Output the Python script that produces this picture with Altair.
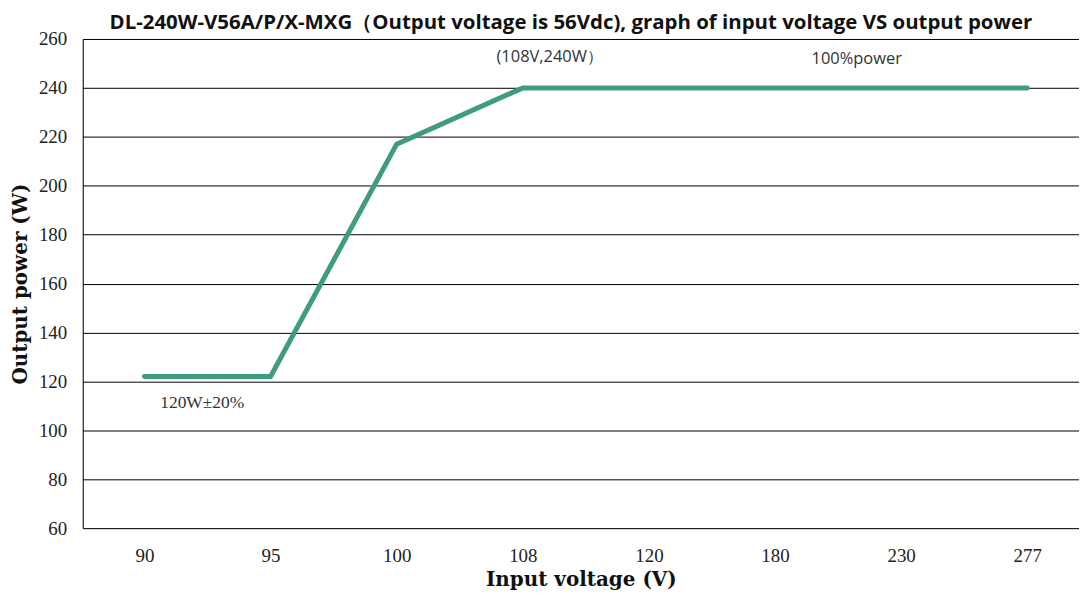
import altair as alt
import pandas as pd

voltages = ["90", "95", "100", "108", "120", "180", "230", "277"]
power = [122, 122, 217, 240, 240, 240, 240, 240]

ann_text = ["(108V,240W\uff09", "100%power", "120W\u00b120%"]
ann_x = ["108", "180", "90"]
ann_y = [252.5, 252, 111]
ann_dx = [27, 82, 58]
ann_font = ["Open Sans", "Open Sans", "Liberation Serif"]
ann_size = [16.5, 16.5, 17.5]

df = pd.DataFrame({"v": voltages, "p": power})
ann = pd.DataFrame({"t": ann_text, "v": ann_x, "p": ann_y})

xs = alt.X("v:O", sort=voltages, title="Input voltage (V)",
           scale=alt.Scale(type="point", padding=0.45, align=0.544),
           axis=alt.Axis(labelAngle=0, ticks=False, domain=False, grid=False,
                         labelFont="Liberation Serif", labelFontSize=19, labelColor="#222",
                         labelPadding=18, titleFont="DejaVu Serif", titleFontSize=20,
                         titleFontWeight="bold", titleColor="#111", titlePadding=5))
ys = alt.Y("p:Q", title="Output power (W)",
           scale=alt.Scale(domain=[60, 260], nice=False, zero=False),
           axis=alt.Axis(values=list(range(60, 261, 20)), ticks=False, grid=True,
                         gridColor="#000", gridOpacity=1, gridWidth=1,
                         domain=True, domainColor="#000", domainWidth=1,
                         labelFont="Liberation Serif", labelFontSize=19, labelColor="#222",
                         labelPadding=16, titleFont="DejaVu Serif", titleFontSize=20,
                         titleFontWeight="bold", titleColor="#111", titlePadding=8))

line = alt.Chart(df).mark_line(color="#3f9c7f", strokeWidth=5, strokeCap="round").encode(x=xs, y=ys)

texts = []
for i in range(len(ann_text)):
    sub = ann.iloc[[i]]
    texts.append(
        alt.Chart(sub).mark_text(dx=int(ann_dx[i]), font=ann_font[i], fontSize=ann_size[i],
                                 color="#333", align="center", baseline="middle")
        .encode(x=alt.X("v:O", sort=voltages), y=alt.Y("p:Q"), text="t:N")
    )

chart = alt.layer(line, *texts).properties(
    width=1000, height=491,
    autosize=alt.AutoSizeParams(type="none"),
    padding={"left": 75, "top": 30, "right": 0, "bottom": 62},
    title=alt.TitleParams(
        "DL-240W-V56A/P/X-MXG\uff08Output voltage is 56Vdc), graph of input voltage VS output power",
        font="Open Sans", fontSize=20.5, fontWeight="bold", color="#111", anchor="middle",
        offset=0, dy=3, dx=-10),
).configure_view(stroke=None).configure(background="white")

chart.save("out.html", embed_options={"renderer": "svg", "actions": False})
